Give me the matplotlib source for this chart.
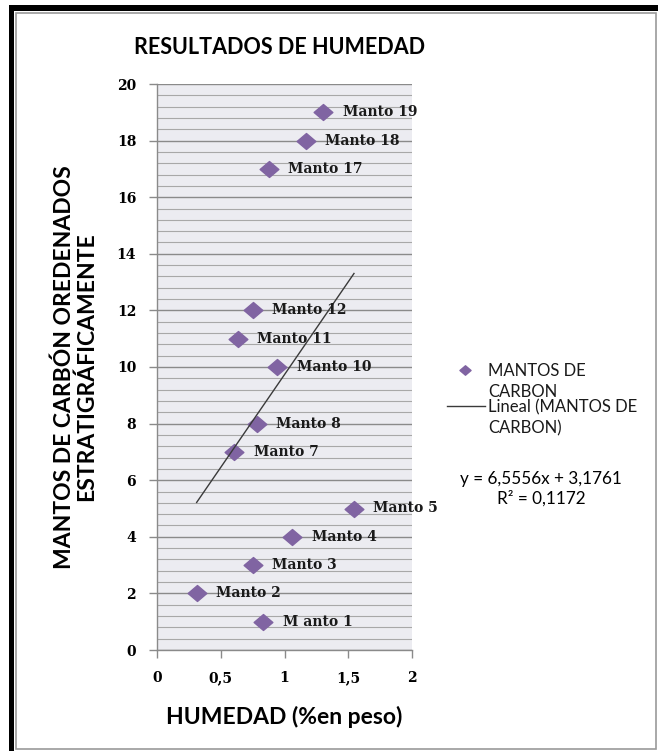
import matplotlib
matplotlib.use("Agg")
import matplotlib.pyplot as plt
from matplotlib.path import Path
from matplotlib.patches import Rectangle
from matplotlib.lines import Line2D
import numpy as np

# Coal seam moisture data
seam_labels = ["M anto 1", "Manto 2", "Manto 3", "Manto 4", "Manto 5", "Manto 7",
               "Manto 8", "Manto 10", "Manto 11", "Manto 12", "Manto 17",
               "Manto 18", "Manto 19"]
humedad = [0.834, 0.311, 0.750, 1.061, 1.545, 0.607, 0.782, 0.944, 0.635,
           0.750, 0.876, 1.169, 1.304]
manto = [1, 2, 3, 4, 5, 7, 8, 10, 11, 12, 17, 18, 19]

# Linear trend reported for the series
slope = 6.5556
intercept = 3.1761
r2 = 0.1172

x_ticks = [0, 0.5, 1, 1.5, 2]
x_ticklabels = ["0", "0,5", "1", "1,5", "2"]
y_ticks = list(range(0, 21, 2))

series_name = ["MANTOS DE", "CARBON"]
trend_name = ["Lineal (MANTOS DE", "CARBON)"]

purple = "#8064A2"
line_color = "#3a3a3a"
sans = ["Lato", "DejaVu Sans"]
serif = ["DejaVu Serif"]

W, H = 658, 751
fig = plt.figure(figsize=(W / 100, H / 100), dpi=100)
fig.patch.set_facecolor("white")


def fx(px):
    return px / W


def fy(py):
    return 1 - py / H


# Frame around the chart
def fig_rect(x0, y0, x1, y1, **kw):
    fig.patches.append(Rectangle((fx(x0), fy(y1)), (x1 - x0) / W, (y1 - y0) / H,
                                 transform=fig.transFigure, **kw))


fig_rect(16, 13, 656, 749, fill=False, edgecolor="#9a9a9a", linewidth=1.2)
fig_rect(9, 5, 658, 11, facecolor="black", edgecolor="none")
fig_rect(9, 5, 14, 751, facecolor="black", edgecolor="none")

ax = fig.add_axes([fx(157), fy(650), (412 - 157) / W, (650 - 84) / H])
ax.set_facecolor("#ECECF1")
ax.set_xlim(0, 2)
ax.set_ylim(0, 20)

# Grid: fine lines every 0.4, heavier every 2
ax.set_yticks(y_ticks)
ax.set_yticks(np.arange(0, 20.01, 0.4), minor=True)
ax.grid(which="minor", axis="y", color="#a8a8a8", linewidth=0.8)
ax.grid(which="major", axis="y", color="#8a8a8a", linewidth=1.0)
ax.set_axisbelow(True)

ax.set_xticks(x_ticks)
ax.set_xticklabels(x_ticklabels)
ax.tick_params(axis="both", which="major", direction="out", length=6, width=1,
               color="#8a8a8a", labelsize=10)
ax.tick_params(axis="y", which="minor", length=0)
ax.tick_params(axis="x", pad=9)
ax.tick_params(axis="y", pad=9)
for lab in ax.get_xticklabels() + ax.get_yticklabels():
    lab.set_family(serif)
    lab.set_fontweight("bold")

for s in ("top", "right"):
    ax.spines[s].set_visible(False)
for s in ("left", "bottom"):
    ax.spines[s].set_color("#8a8a8a")
    ax.spines[s].set_linewidth(1.0)

# Diamond marker, slightly wider than tall
diamond = Path([(-1, 0), (0, 0.85), (1, 0), (0, -0.85), (-1, 0)],
               [Path.MOVETO, Path.LINETO, Path.LINETO, Path.LINETO, Path.CLOSEPOLY])

ax.plot(humedad, manto, linestyle="none", marker=diamond, markersize=13.5,
        color=purple, markeredgecolor=purple, zorder=3)

xs = np.array([min(humedad), max(humedad)])
ax.plot(xs, slope * xs + intercept, color=line_color, linewidth=1.0, zorder=4)

for xv, yv, lab in zip(humedad, manto, seam_labels):
    ax.annotate(lab, (xv, yv), xytext=(14, 0), textcoords="offset points",
                va="center", ha="left", fontsize=10, fontweight="bold",
                family=serif, color="#1a1a1a", zorder=5, annotation_clip=False)

ax.set_xlabel("HUMEDAD (%en peso)", fontsize=16.5, fontweight="bold", family=sans,
              labelpad=15)
ax.set_ylabel("MANTOS DE CARBÓN OREDENADOS\nESTRATIGRÁFICAMENTE", fontsize=16.5,
              fontweight="bold", family=sans, linespacing=1.05, labelpad=14)

fig.text(fx(280), fy(47), "RESULTADOS DE HUMEDAD", ha="center", va="center",
         fontsize=15.5, fontweight="bold", family=sans)

# Legend: symbols aligned with the first line of each entry
fig.lines.append(Line2D([fx(465)], [fy(370)], transform=fig.transFigure,
                        linestyle="none", marker=diamond, markersize=8,
                        color=purple, markeredgecolor=purple))
fig.lines.append(Line2D([fx(447), fx(485)], [fy(406), fy(406)],
                        transform=fig.transFigure, color=line_color, linewidth=1.0))
for yy, txt in zip([371, 392, 407, 428], series_name + trend_name):
    fig.text(fx(488), fy(yy), txt, ha="left", va="center", fontsize=12,
             family=sans, color="#1a1a1a")

eq = "y = {:.4f}x + {:.4f}".format(slope, intercept).replace(".", ",")
r2_txt = "R² = {:.4f}".format(r2).replace(".", ",")
fig.text(fx(541), fy(489), eq + "\n" + r2_txt, ha="center", va="center",
         fontsize=12.3, family=sans, linespacing=1.2, multialignment="center")

fig.savefig("out.png", dpi=100)
